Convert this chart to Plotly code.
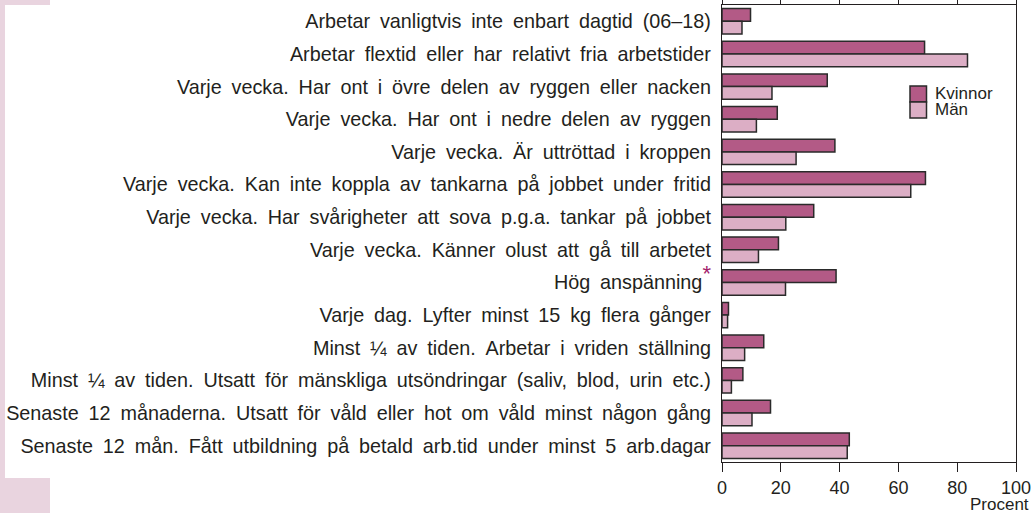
import plotly.graph_objects as go

categories = [
    "Arbetar vanligtvis inte enbart dagtid (06–18)",
    "Arbetar flextid eller har relativt fria arbetstider",
    "Varje vecka. Har ont i övre delen av ryggen eller nacken",
    "Varje vecka. Har ont i nedre delen av ryggen",
    "Varje vecka. Är uttröttad i kroppen",
    "Varje vecka. Kan inte koppla av tankarna på jobbet under fritid",
    "Varje vecka. Har svårigheter att sova p.g.a. tankar på jobbet",
    "Varje vecka. Känner olust att gå till arbetet",
    "Hög anspänning",
    "Varje dag. Lyfter minst 15 kg flera gånger",
    "Minst ¼ av tiden. Arbetar i vriden ställning",
    "Minst ¼ av tiden. Utsatt för mänskliga utsöndringar (saliv, blod, urin etc.)",
    "Senaste 12 månaderna. Utsatt för våld eller hot om våld minst någon gång",
    "Senaste 12 mån. Fått utbildning på betald arb.tid under minst 5 arb.dagar",
]
starred = ["Hög anspänning"]
kvinnor = [9.7, 68.9, 35.8, 18.8, 38.4, 69.2, 31.2, 19.2, 38.8, 2.2, 14.2, 7.1, 16.5, 43.3]
man = [6.8, 83.5, 17.0, 11.7, 25.2, 64.2, 21.7, 12.4, 21.6, 1.9, 7.7, 3.2, 10.2, 42.6]
series_names = ["Kvinnor", "Män"]
x_ticks = [0, 20, 40, 60, 80, 100]

W, H = 1034, 513
L, R, T, B = 722, 18, 5, 51
pw, ph = W - L - R, H - T - B

def px(x):
    return (x - L) / pw

def py(y):
    return 1 - (y - T) / ph

def label(text):
    # wider word spacing, as in the printed layout
    out = text.replace(" ", "\u2002")
    if text in starred:
        out += "<sup><span style='color:#a3216b;font-size:22px'>*</span></sup>"
    return out

ylabels = [label(c) for c in categories]
colors = ["#b35a86", "#dcaec5"]
edge = "#2a2a2a"
outline = dict(color=edge, width=1.5)

fig = go.Figure()
for name, vals, col in zip(series_names, [kvinnor, man], colors):
    fig.add_trace(go.Bar(y=ylabels, x=vals, name=name, orientation="h",
                         marker=dict(color=col, line=outline), showlegend=False))

pink = "#e9d4df"
shapes = [
    dict(type="rect", xref="paper", yref="paper", x0=px(0), x1=px(5), y0=py(513), y1=py(0),
         fillcolor=pink, line=dict(width=0), layer="below"),
    dict(type="rect", xref="paper", yref="paper", x0=px(0), x1=px(50), y0=py(5), y1=py(0),
         fillcolor=pink, line=dict(width=0), layer="below"),
    dict(type="rect", xref="paper", yref="paper", x0=px(0), x1=px(50), y0=py(513), y1=py(478),
         fillcolor=pink, line=dict(width=0), layer="below"),
]
annotations = [dict(text="Procent", xref="paper", yref="paper", x=px(1031), y=py(505),
                    xanchor="right", yanchor="middle", showarrow=False,
                    font=dict(size=17))]

# legend: stacked swatches with labels
sw_top, sw_h = 86, 16
for i, (name, col) in enumerate(zip(series_names, colors)):
    y0 = sw_top + i * sw_h
    shapes.append(dict(type="rect", xref="paper", yref="paper",
                       x0=px(910), x1=px(926.5), y0=py(y0 + sw_h), y1=py(y0),
                       fillcolor=col, line=dict(color=edge, width=1.5)))
    annotations.append(dict(text=name, xref="paper", yref="paper", x=px(933),
                            y=py(y0 + sw_h / 2), xanchor="left", yanchor="middle",
                            showarrow=False, font=dict(size=17)))

fig.update_layout(
    width=W, height=H,
    margin=dict(l=L, r=R, t=T, b=B, autoexpand=False),
    paper_bgcolor="white", plot_bgcolor="white",
    font=dict(family="Liberation Sans, Arial, sans-serif", size=19.8, color="#231f20"),
    barmode="group", bargap=0.22, bargroupgap=0,
    shapes=shapes, annotations=annotations,
    showlegend=False,
)
fig.update_xaxes(range=[0, 100], tickvals=x_ticks, showgrid=False, zeroline=False,
                 showline=True, linecolor="#231f20", linewidth=1.2, mirror="ticks",
                 ticks="outside", ticklen=9, tickcolor="#231f20", tickwidth=1.2,
                 tickfont=dict(size=18), automargin=False)
fig.update_yaxes(autorange="reversed", showgrid=False, showline=True,
                 linecolor="#231f20", linewidth=1.2, mirror=True, ticks="",
                 ticklabelstandoff=6, tickfont=dict(size=19.8), automargin=False)

fig.write_html("out.html")
